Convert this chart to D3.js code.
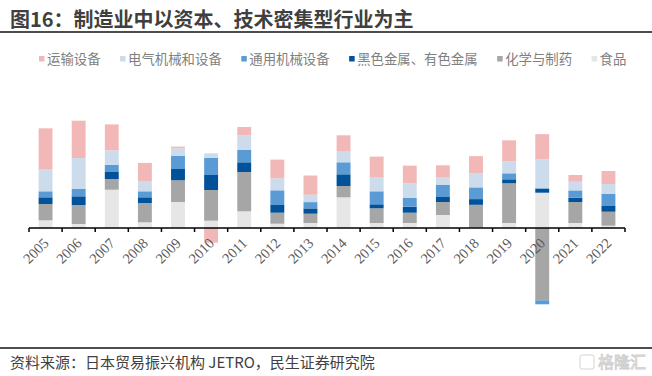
<!DOCTYPE html>
<html>
<head>
<meta charset="utf-8">
<script src="https://cdn.jsdelivr.net/npm/d3@7"></script>
<style>
  body { margin: 0; background: #fff; }
  svg { display: block; }
</style>
</head>
<body>
<div class="chart"></div>
<script>
// Data (no y axis in the original, units are relative)
const years = ["2005","2006","2007","2008","2009","2010","2011","2012","2013","2014","2015","2016","2017","2018","2019","2020","2021","2022"];
const seriesNames = ["食品", "化学与制药", "黑色金属、有色金属", "通用机械设备", "电气机械和设备", "运输设备"];
const legendOrder = ["运输设备", "电气机械和设备", "通用机械设备", "黑色金属、有色金属", "化学与制药", "食品"];
const food      = [7.7, 4, 38.3, 5.7, 26, 7.3, 16.7, 4.3, 5, 30.7, 5, 5, 13, 0.5, 5, 35.3, 5, 2.3];
const chemical  = [16.3, 19, 10.7, 19.3, 21.7, 30.7, 39.3, 11, 9.3, 11.3, 14.7, 10.3, 13, 22.7, 39.7, -72.3, 21, 14];
const metals    = [6.7, 8.7, 7, 5.7, 11.3, 15, 9.7, 7.7, 5.3, 11.7, 4, 6, 5, 5.7, 4, 4.3, 4.3, 5.7];
const machinery = [6, 7.3, 7.3, 6, 13, 17, 12.3, 14.7, 6.3, 12, 13, 8.7, 12, 11.7, 6, -4, 7.3, 12.3];
const electric  = [21.7, 31, 14.3, 9.7, 7.7, 4.7, 14.7, 12, 7.3, 10.7, 13.7, 14.7, 8, 14.3, 12, 29, 8.7, 9.7];
const transport = [41.3, 37.3, 26, 18.7, 1.7, -14.7, 8.3, 18.7, 19.3, 16.3, 21, 17.7, 11.7, 17, 21, 25.3, 6.7, 13];

const colors = {
  "运输设备": "#f2b8b8",
  "电气机械和设备": "#ccdcec",
  "通用机械设备": "#5b9bd5",
  "黑色金属、有色金属": "#02529a",
  "化学与制药": "#a6a6a6",
  "食品": "#e6e6e6"
};

const WIDTH = 652, HEIGHT = 376;
const svg = d3.select(".chart").append("svg").attr("width", WIDTH).attr("height", HEIGHT);

// Title and rules
svg.append("text")
  .attr("x", 10).attr("y", 27)
  .attr("font-family", "Noto Sans CJK SC")
  .attr("font-weight", "bold")
  .attr("font-size", 20)
  .attr("fill", "#3f3f3f")
  .text("图16：制造业中以资本、技术密集型行业为主");

svg.append("line").attr("x1", 0).attr("x2", WIDTH).attr("y1", 32).attr("y2", 32)
  .attr("stroke", "#4d4d4d").attr("stroke-width", 2);
svg.append("line").attr("x1", 0).attr("x2", WIDTH).attr("y1", 348).attr("y2", 348)
  .attr("stroke", "#4d4d4d").attr("stroke-width", 2);

svg.append("text")
  .attr("x", 10).attr("y", 368)
  .attr("font-family", "Noto Sans CJK SC")
  .attr("font-size", 15)
  .attr("fill", "#404040")
  .text("资料来源：日本贸易振兴机构 JETRO，民生证券研究院");

// faint watermark
const wm = svg.append("g").attr("fill", "none").attr("stroke", "#cfcfcf").attr("stroke-width", 0.9);
wm.append("rect").attr("x", 580).attr("y", 355).attr("width", 14).attr("height", 14).attr("rx", 2);
wm.append("text")
  .attr("x", 646).attr("y", 368)
  .attr("text-anchor", "end")
  .attr("font-family", "Noto Sans CJK SC")
  .attr("font-size", 16)
  .text("格隆汇");

// Legend
const legend = svg.append("g").attr("transform", "translate(39, 59)");
let lx = 0;
legendOrder.forEach(name => {
  const g = legend.append("g").attr("transform", `translate(${lx}, 0)`);
  g.append("rect").attr("x", 0).attr("y", -3).attr("width", 5.5).attr("height", 5.5).attr("fill", colors[name]);
  const t = g.append("text")
    .attr("x", 8).attr("y", 4.7)
    .attr("font-family", "Noto Sans CJK SC")
    .attr("font-size", 13.4)
    .attr("fill", "#7f7f7f")
    .text(name);
  lx += 8 + t.node().getComputedTextLength() + 19.5;
});

// Scales
const x = d3.scaleBand().domain(years).range([29, 625]).paddingInner(0.58).paddingOuter(0.29);
const y = d3.scaleLinear().domain([-80, 110]).range([308, 118]);

const table = years.map((yr, i) => ({
  year: yr,
  "食品": food[i],
  "化学与制药": chemical[i],
  "黑色金属、有色金属": metals[i],
  "通用机械设备": machinery[i],
  "电气机械和设备": electric[i],
  "运输设备": transport[i]
}));

const stacked = d3.stack().keys(seriesNames).offset(d3.stackOffsetDiverging)(table);

svg.append("g").selectAll("g")
  .data(stacked)
  .join("g")
  .attr("fill", d => colors[d.key])
  .selectAll("rect")
  .data(d => d)
  .join("rect")
  .attr("x", d => x(d.data.year))
  .attr("width", x.bandwidth())
  .attr("y", d => y(Math.max(d[0], d[1])))
  .attr("height", d => Math.abs(y(d[0]) - y(d[1])));

// X axis: line, boundary ticks, rotated labels
const step = x.step();
const axis = svg.append("g").attr("transform", `translate(0, ${y(0)})`);
axis.append("line").attr("x1", 29).attr("x2", 625).attr("stroke", "#000").attr("stroke-width", 1.5);
axis.selectAll(".bt")
  .data(d3.range(years.length + 1))
  .join("line")
  .attr("class", "bt")
  .attr("x1", i => 29 + i * step).attr("x2", i => 29 + i * step)
  .attr("y1", 0).attr("y2", 4)
  .attr("stroke", "#000").attr("stroke-width", 1.5);

axis.selectAll(".lbl")
  .data(years)
  .join("text")
  .attr("class", "lbl")
  .attr("transform", d => `translate(${x(d) + x.bandwidth() / 2 + 4}, 16) rotate(-45)`)
  .attr("text-anchor", "end")
  .attr("font-family", "Liberation Serif")
  .attr("font-size", 14.5)
  .attr("fill", "#595959")
  .text(d => d);
</script>
</body>
</html>
